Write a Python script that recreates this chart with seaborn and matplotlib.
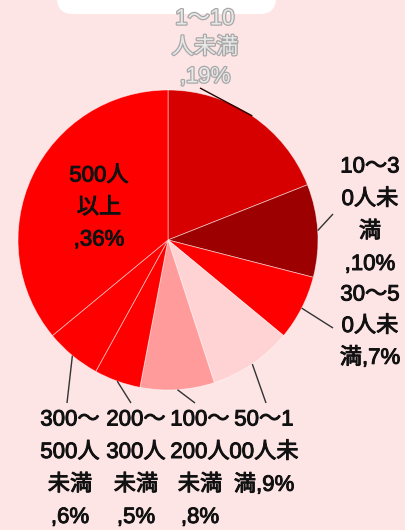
import numpy as np
import matplotlib
matplotlib.use("Agg")
import matplotlib.pyplot as plt
import matplotlib.patheffects as pe
from matplotlib.patches import FancyBboxPatch
import seaborn as sns

# Share of companies by number of employees
categories = ["1～10人未満", "10～30人未満", "30～50人未満", "50～100人未満",
              "100～200人未満", "200～300人未満", "300～500人未満", "500人以上"]
shares = [19, 10, 7, 9, 8, 5, 6, 36]
slice_colors = ["#d60000", "#9c0000", "#ff0000", "#ffd3d3",
                "#ff9b9b", "#ff0000", "#ff0000", "#ff0000"]
# wrapped label texts (name + share)
label_texts = ["1～10\n人未満\n,19%", "10～3\n0人未\n満\n,10%", "30～5\n0人未\n満,7%",
               "50～1\n00人未\n満,9%", "100～\n200人\n未満\n,8%", "200～\n300人\n未満\n,5%",
               "300～\n500人\n未満\n,6%", "500人\n以上\n,36%"]

W, H = 405, 530
BG = "#fde4e5"

sns.set_theme(style="white")
plt.rcParams["font.family"] = ["Liberation Sans", "Noto Sans CJK JP", "DejaVu Sans"]

fig = plt.figure(figsize=(W / 100, H / 100), dpi=100, facecolor=BG)
ax = fig.add_axes([0, 0, 1, 1])
ax.set_facecolor(BG)

# pixel-like coordinates with y measured from the top
cx, cy, R = 168, 240, 150
ax.pie(shares, colors=slice_colors, startangle=90, counterclock=False,
       center=(cx, H - cy), radius=R,
       wedgeprops=dict(edgecolor=(1, 1, 1, 0.55), linewidth=0.6))
ax.set_xlim(0, W)
ax.set_ylim(0, H)
ax.set_aspect("equal")
ax.axis("off")

# white card peeking in at the top
card = FancyBboxPatch((57, H - 14), 219, 60, boxstyle="round,pad=0,rounding_size=16",
                      transform=ax.transData, facecolor="white", edgecolor="none",
                      zorder=0.5)
ax.add_patch(card)

# label placement: (x center, y of first line from top, line step, leader end)
layout = [
    (205, 19, 29, (200, 88)),
    (370, 167, 32.5, (333, 214)),
    (370, 295, 31.5, (333, 328)),
    (264, 420, 32.5, (266, 403)),
    (200, 420, 32.5, (195, 403)),
    (136, 420, 32.5, (131, 403)),
    (70, 420, 32.5, (67, 403)),
    (99, 176, 32, None),
]

fs = 16
cum = np.cumsum([0] + shares[:-1])
total = sum(shares)
for i, (txt, (lx, ly, step, end)) in enumerate(zip(label_texts, layout)):
    mid = (cum[i] + shares[i] / 2) / total * 2 * np.pi
    sx = cx + R * np.sin(mid)
    sy = cy - R * np.cos(mid)
    if end is not None:
        lc = "#2a0000" if i == 0 else "#333333"
        ax.plot([sx, end[0]], [H - sy, H - end[1]], color=lc, lw=1.0, zorder=3,
                solid_capstyle="butt")
    if i == 0:
        kw = dict(color="#e8e8e8",
                  path_effects=[pe.withStroke(linewidth=1.8, foreground="#a8a8a8")])
    else:
        kw = dict(color="#111111",
                  path_effects=[pe.withStroke(linewidth=0.7, foreground="#111111")])
    for j, line in enumerate(txt.split("\n")):
        ax.text(lx, H - (ly + j * step), line, ha="center", va="center",
                fontsize=fs, zorder=4, **kw)

fig.savefig("out.png", dpi=100, facecolor=BG)
